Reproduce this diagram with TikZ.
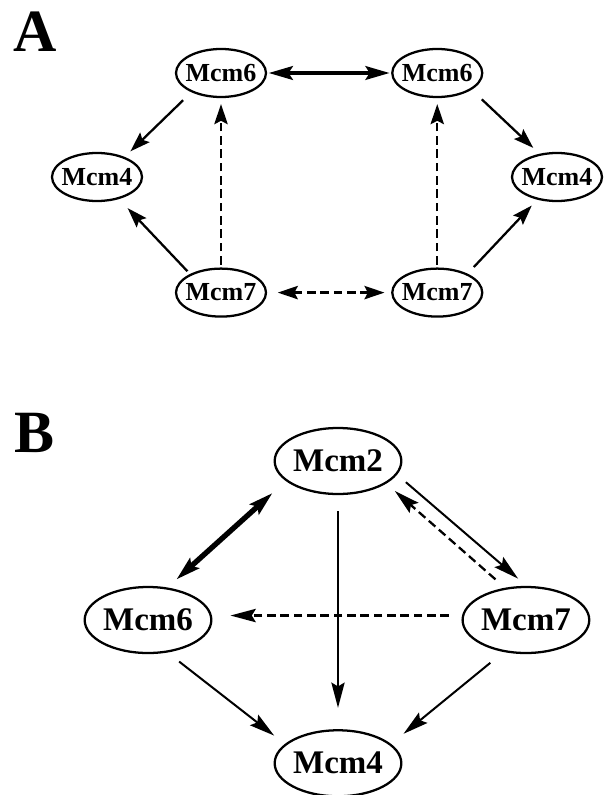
\documentclass[tikz,border=0pt]{standalone}
\usepackage{fontspec}
\setmainfont{Liberation Serif}
\usetikzlibrary{arrows.meta,positioning,shapes.geometric}

\tikzset{
  geneA/.style={draw, ellipse, line width=1.7pt, inner xsep=-4pt, inner ysep=0pt, minimum width=67.5pt, minimum height=36pt, font=\bfseries\fontsize{19.5}{20}\selectfont},
  geneB/.style={draw, ellipse, line width=1.7pt, inner xsep=-2pt, inner ysep=0pt, minimum width=95pt, minimum height=49.5pt, font=\bfseries\fontsize{24.75}{26}\selectfont},
  panel/.style={anchor=base west, inner sep=0pt, font=\bfseries\fontsize{45}{46}\selectfont},
  linkA/.style={line width=1.7pt, -{Stealth[length=15pt,width=10pt,inset=2.5pt]}},
  linkB/.style={line width=1.5pt, -{Stealth[length=19pt,width=10pt,inset=3pt]}},
  dashA/.style={line width=1.7pt, dash pattern=on 6.5pt off 3.5pt},
  thickA/.style={line width=3.5pt, {Stealth[length=18pt,width=10pt,inset=3pt]}-{Stealth[length=18pt,width=10pt,inset=3pt]}},
}

\begin{document}
\begin{tikzpicture}[x=0.75pt, y=-0.75pt]
\useasboundingbox (0,0) rectangle (606,795);

% panel A
\node[panel] (labA) at (13,52) {A};
\node[geneA] (m6a) at (221,73) {Mcm6};
\node[geneA, right=93pt of m6a] (m6b) {Mcm6};
\node[geneA, below=127pt of m6a] (m7a) {Mcm7};
\node[geneA, right=93pt of m7a] (m7b) {Mcm7};
\node[geneA] (m4a) at (97,177) {Mcm4};
\node[geneA] (m4b) at (557,177) {Mcm4};

\draw[thickA, shorten <=1pt, shorten >=1pt] (m6a.east) -- (m6b.west);
\draw[linkA, shorten <=8.6pt, shorten >=6pt] (m6a.213) -- (m4a.36);
\draw[linkA, shorten <=2.8pt, shorten >=9.4pt] (m7a.149) -- (m4a.315);
\draw[linkA, shorten <=10.5pt, shorten >=6.4pt] (m6b.334) -- (m4b.127);
\draw[linkA, shorten <=6.8pt, shorten >=6pt] (m7b.32) -- (m4b.229);
\draw[linkA, dashA, shorten <=2.2pt, shorten >=4.5pt] (m7a.north) -- (m6a.south);
\draw[linkA, dashA, shorten <=2.2pt, shorten >=4.5pt] (m7b.north) -- (m6b.south);
\draw[linkA, dashA, {Stealth[length=15pt,width=10pt,inset=2.5pt]}-{Stealth[length=15pt,width=10pt,inset=2.5pt]}, shorten <=8pt, shorten >=5pt] (m7a.east) -- (m7b.west);

% panel B
\node[panel] (labB) at (14,452) {B};
\node[geneB] (m2) at (338,461) {Mcm2};
\node[geneB] (m6) at (148,620) {Mcm6};
\node[geneB, right=186.75pt of m6] (m7) {Mcm7};
\node[geneB, below=175.5pt of m2] (m4) {Mcm4};

\draw[thickA, line width=4pt, shorten <=13.5pt, shorten >=9pt] (m2.201) -- (m6.59);
\draw[linkB, line width=1.1pt, shorten <=12pt, shorten >=16pt] (m2.south) -- (m4.north);
\draw[linkB, shorten <=8.7pt, shorten >=8.3pt] (m2.347) -- (m7.89);
\draw[linkB, dashA, shorten <=9.5pt, shorten >=8.5pt] (m7.123) -- (m2.335);
\draw[linkB, dashA, shorten <=9.8pt, shorten >=13.9pt] (m7.176) -- (m6.4);
\draw[linkB, shorten <=11pt, shorten >=10.2pt] (m6.301) -- (m4.160);
\draw[linkB, shorten <=12.8pt, shorten >=12pt] (m7.235) -- (m4.20);
\end{tikzpicture}
\end{document}
